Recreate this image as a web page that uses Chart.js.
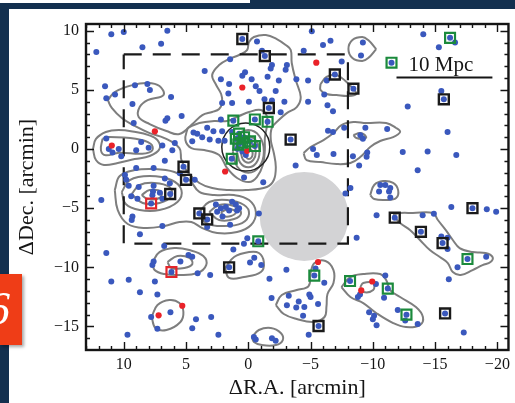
<!DOCTYPE html>
<html>
<head>
<meta charset="utf-8">
<script src="https://cdn.jsdelivr.net/npm/chart.js@4.4.1/dist/chart.umd.min.js"></script>
<style>
  html, body { margin: 0; padding: 0; width: 515px; height: 403px; overflow: hidden; background: #13304f; }
  #panel { position: absolute; left: 9px; top: 9px; right: 0; bottom: 0; background: #ffffff; }
  #strip { position: absolute; left: 0; top: 0; width: 250px; height: 3px; background: #ffffff; }
  #wrap { position: absolute; left: 0; top: 0; width: 515px; height: 403px; }
  #badge { position: absolute; left: 0; top: 274px; width: 22px; height: 71px; background: #ef3d17;
           overflow: hidden; box-shadow: 2px 2px 3px rgba(0,0,0,0.35); }
  #badge span { position: absolute; left: -13px; top: 12px; font: italic 46px "Liberation Serif", serif;
                color: #ffffff; line-height: 1; }
</style>
</head>
<body>
<div id="panel"></div>
<div id="strip"></div>
<div id="wrap"><canvas id="c" width="515" height="403"></canvas></div>
<div id="badge"><span>6</span></div>
<script>
// Axis extents and labelled ticks (arcmin offsets from the cluster centre)
const raRange  = [-20.89, 13.03];
const decRange = [-16.99, 10.57];
const raTicks  = [10, 5, 0, -5, -10, -15, -20];
const decTicks = [10, 5, 0, -5, -10, -15];

// Field galaxies [dRA, dDec]
const blueGalaxies = [
  [11.0,9.7],[10.0,9.9],[6.5,10.0],[8.5,8.6],[7.0,8.9],[12.2,8.2],
  [11.5,5.3],[9.1,5.4],[8.1,5.5],[7.9,5.0],[11.4,4.3],[10.7,4.6],[9.3,3.8],[6.2,4.4],
  [9.2,2.2],[6.65,2.4],[6.5,2.6],[5.35,2.8],
  [11.4,0.9],[8.6,0.6],[8.0,0.1],[5.9,0.5],[6.9,0.3],[6.1,-0.1],[11.2,0.0],[10.9,-0.3],[10.4,0.0],[9.0,-0.1],[10.2,-0.6],
  [6.7,-1.0],[9.0,-1.6],[7.6,-1.6],[6.7,-2.5],[9.9,-2.2],[9.8,-2.6],[4.4,1.4],[4.5,0.65],
  [9.6,-3.1],[8.8,-3.2],[7.6,-3.1],[5.5,-2.05],[4.3,-2.6],[6.3,-2.9],[7.65,-3.6],
  [-0.7,9.1],[-1.1,8.3],[1.46,7.6],[3.5,6.6],[2.2,5.9],[0.26,6.5],[0.48,6.2],[-0.27,5.9],[-0.6,5.3],
  [-1.55,6.1],[-1.9,7.1],[-2.45,5.8],[-3.1,7.1],[-3.0,6.7],[-1.8,6.8],[1.54,5.5],[1.6,4.7],[-0.9,4.9],
  [-2.2,4.9],[1.3,3.9],[2.1,3.9],[-0.05,4.0],[-1.3,4.2],[-1.9,4.1],[-2.9,4.0],[-2.6,3.1],[2.2,2.5],
  [4.1,1.3],[3.7,1.0],[3.3,1.8],[2.8,1.5],[2.1,1.5],[1.3,1.45],[2.4,0.7],[3.1,0.8],[1.9,0.7],
  [0.88,0.03],[0.48,-0.2],[0.2,-0.5],[0.34,-2.4],[-1.2,-2.8],[-3.8,-1.4],
  [-5.1,9.95],[-6.6,9.15],[-6.0,8.8],[-4.45,8.3],[-9.2,9.0],[-9.05,7.9],[-7.5,7.4],[-3.86,5.9],[-4.8,5.8],
  [-6.3,5.8],[-6.1,4.6],[-4.8,4.0],[-6.36,3.7],[-6.8,3.2],[-6.4,1.55],[-6.8,1.44],[-7.7,1.8],[-9.4,1.8],
  [-11.15,1.7],[-9.0,1.16],[-9.2,0.87],[-5.2,0.0],[-5.5,-0.5],[-6.84,-0.42],[-8.4,-0.6],[-9.55,-0.3],
  [-9.5,-0.65],[-8.9,-1.4],[-12.4,-0.25],[-8.2,-3.3],
  [-10.6,-3.05],[-11.0,-3.05],[-11.4,-3.3],[-11.3,-3.6],[-10.5,-3.6],[-11.4,-4.1],
  [-14.05,9.7],[-16.6,9.0],[-15.3,8.6],[-15.5,4.9],[-12.8,3.6],[-16.0,1.44],[-14.4,-0.2],[-16.7,-0.5],[-13.6,-1.8],
  [11.8,-4.3],[9.3,-5.7],[9.36,-6.0],[6.9,-6.5],[8.7,-7.2],[6.75,-8.2],[11.4,-8.8],[7.6,-9.5],[7.7,-9.8],
  [5.45,-9.5],[4.8,-8.95],[4.5,-9.1],[11.0,-11.2],[9.6,-11.05],[7.5,-11.2],[8.7,-12.1],[7.3,-12.3],[7.8,-14.2],
  [6.25,-13.8],[7.3,-15.2],[9.7,-15.7],[4.5,-15.15],[4.2,-14.4],
  [9.4,-4.0],[8.9,-4.2],[7.7,-3.9],[6.9,-4.2],[7.1,-3.7],
  [2.6,-4.7],[2.2,-5.0],[1.8,-4.9],[1.3,-4.45],[1.0,-4.7],[0.74,-5.0],[0.9,-5.2],[2.07,-5.7],[1.54,-5.2],
  [1.46,-6.4],[3.3,-6.6],[2.5,-5.3],[-0.85,-5.44],[0.08,-7.55],[0.35,-8.0],[1.2,-8.5],
  [4.07,-10.5],[3.06,-10.65],[-0.14,-9.6],[-0.48,-9.2],[-1.04,-9.8],[-1.7,-10.96],[-3.06,-10.2],
  [-1.87,-12.6],[-3.25,-12.4],[-3.1,-13.2],[-3.85,-13.4],[2.98,-14.2],[2.4,-15.7],
  [-0.45,-15.9],[-0.6,-16.1],[-1.9,-16.0],[-2.2,-16.2],
  [-7.8,-3.75],[-10.3,-5.6],[-8.7,-7.5],[-5.4,-10.1],[-6.1,-11.3],[-11.0,-10.7],[-10.25,-11.4],
  [-8.97,-12.3],[-8.8,-12.5],[-10.9,-12.57],[-4.05,-12.9],[-4.9,-12.3],[-5.0,-12.5],[-4.5,-13.35],
  [-4.4,-14.1],[-5.6,-13.1],[-4.85,-15.7],[-9.7,-13.8],[-10.1,-14.1],[-10.0,-14.4],[-10.3,-14.9],[-12.0,-13.6],
  [-14.0,-5.6],[-14.9,-5.47],[-16.3,-4.9],[-19.15,-5.1],[-19.9,-5.3],[-15.5,-7.4],[-16.0,-7.5],[-16.0,-8.45],
  [-19.1,-9.1],[-16.8,-10.0],[-16.1,-11.0],[-12.6,-14.5],[-13.6,-14.8],[-17.3,-15.5]
];
const redGalaxies = [
  [7.5,1.5],[10.96,0.3],[0.48,5.2],[1.86,-1.9],[0.1,-0.15],[-5.46,7.3],
  [7.2,-14.06],[5.3,-13.25],[-5.6,-9.55],[-9.95,-11.2],[-9.07,-11.95]
];

// Spectroscopic members, by class
const greenMembers = [
  [1.2,2.4],[-0.53,2.5],[-1.55,2.3],[0.74,1.3],[1.0,0.87],[0.34,1.0],[0.48,0.53],[-0.14,0.65],
  [-0.53,0.25],[0.8,0.37],[1.33,-0.82],[-11.5,7.3],[-16.2,9.4],[-0.8,-7.8],[-5.3,-10.7],
  [-8.17,-11.16],[-11.2,-11.8],[-12.7,-14.0],[-17.6,-9.3]
];
const blackMembers = [
  [0.48,9.3],[-1.33,7.86],[-1.65,3.47],[-3.4,0.8],[-6.95,6.3],[-8.44,5.1],[-15.7,4.2],[5.2,-1.5],
  [5.0,-2.6],[6.27,-3.8],[3.93,-5.44],[3.3,-5.95],[1.54,-10.0],[-11.76,-5.8],[-18.0,-5.0],
  [-13.86,-7.0],[-15.6,-7.95],[-5.64,-14.96],[-15.8,-13.9]
];
const redMembers = [[7.8,-4.6],[6.17,-10.4]];

// Survey footprint, masked region, central aperture, 10 Mpc bar
const surveyBox = [[10,8],[-8,8],[-8,-8],[10,-8],[10,8]];
const maskCentre = [[-4.49,-5.7]];
const apertureCentre = [[0.2,0.17]];
const scaleBar = [[-11.9,6.05],[-19.6,6.05]];
const scaleText = '10 Mpc';
const scaleTextAt = [-15.46,7.07];

// Galaxy density contours, one closed loop per array
const contourCentralOuter = [
  [11.28,4.14],[10.72,4.82],[9.28,5.41],[8.08,5.58],[7.13,5.33],[6.81,4.56],[8.08,4.14],[8.72,3.55],
  [8.80,2.70],[7.92,2.11],[6.57,1.52],[5.53,1.27],[4.49,2.11],[3.69,2.87],[2.90,3.13],[2.34,3.38],
  [2.10,3.97],[2.18,4.65],[2.58,5.41],[2.90,6.26],[2.34,7.10],[1.54,7.61],[0.74,7.95],[0.10,8.37],
  [-0.06,9.04],[-0.45,9.47],[-1.41,9.64],[-2.29,9.30],[-3.01,8.79],[-3.41,8.37],[-3.49,7.27],
  [-3.81,5.83],[-4.21,4.40],[-3.89,3.55],[-3.09,3.04],[-2.45,2.45],[-1.89,1.78],[-1.81,0.76],
  [-2.05,-0.34],[-2.21,-1.52],[-2.05,-2.62],[-1.49,-3.21],[0.18,-3.47],[1.54,-3.47],[2.90,-3.30],
  [3.93,-2.87],[4.89,-1.94],[5.37,-0.93],[5.53,0.08],[6.73,0.93],[7.92,1.35],[9.12,1.95],
  [10.16,2.62],[10.96,3.47]
];
const contourCentralInner = [
  [4.87,1.78],[3.93,2.20],[2.74,2.37],[1.70,2.37],[0.74,2.79],[-0.06,3.13],[-1.01,3.30],[-1.49,2.79],
  [-1.49,1.94],[-1.33,0.93],[-1.33,-0.08],[-1.17,-1.35],[-0.69,-2.37],[-0.06,-2.79],[0.90,-2.45],
  [1.70,-1.61],[2.34,-0.51],[3.54,-0.08],[4.57,0.08],[5.05,0.76]
];
const contourCore1 = [[1.25,-0.2],[0.88,1.1],[0,1.6],[-0.88,1.1],[-1.25,-0.2],[-0.88,-1.5],[0,-2.0],[0.88,-1.5]];
const contourCore2 = [[0.9,-0.25],[0.64,0.67],[0,1.05],[-0.64,0.67],[-0.9,-0.25],[-0.64,-1.17],[0,-1.55],[0.64,-1.17]];
const contourCore3 = [[0.6,-0.3],[0.42,0.3],[0,0.55],[-0.42,0.3],[-0.6,-0.3],[-0.42,-0.9],[0,-1.15],[0.42,-0.9]];
const contourCore4 = [[0.25,-0.4],[0.16,-0.08],[-0.05,0.05],[-0.26,-0.08],[-0.35,-0.4],[-0.26,-0.72],[-0.05,-0.85],[0.16,-0.72]];
const contourWestOuter = [
  [12.47,0],[12.23,0.85],[11.44,1.44],[10.40,1.61],[9.04,1.44],[8.00,1.18],[7.29,0.76],[7.13,0],
  [7.92,-0.59],[9.12,-0.85],[10.48,-1.18],[11.59,-1.35],[12.23,-0.93]
];
const contourWestInner = [
  [11.70,0.87],[11.17,1.01],[9.04,0.87],[7.84,0.45],[7.71,-0.11],[8.51,-0.40],[10.37,-0.31],[11.44,-0.53],[11.83,-0.11]
];
const contourSouthWestOuter = [
  [10.72,-3.47],[10.32,-2.28],[9.12,-1.78],[7.52,-1.69],[5.93,-1.94],[4.73,-2.62],[3.93,-3.63],[2.74,-3.89],
  [1.14,-3.89],[-0.06,-4.31],[-0.61,-5.33],[-0.22,-6.42],[0.90,-7.02],[2.50,-7.10],[3.69,-6.68],
  [4.57,-6.17],[5.53,-6.17],[6.73,-6.51],[8.32,-6.68],[9.68,-6.34],[10.48,-5.16]
];
const contourSWLeft2 = [[10.16,-3.63],[9.52,-2.62],[7.92,-2.28],[6.17,-2.62],[5.37,-3.47],[5.69,-4.48],[7.13,-5.16],[8.72,-5.16],[9.84,-4.65]];
const contourSWLeft3 = [[9.36,-3.80],[8.72,-3.04],[7.52,-2.87],[6.33,-3.21],[6.17,-3.97],[7.13,-4.56],[8.48,-4.56]];
const contourSWLeft4 = [[8.56,-3.89],[7.92,-3.47],[6.97,-3.63],[7.13,-4.14],[8.08,-4.23]];
const contourSWRight2 = [[3.93,-5.33],[3.14,-4.48],[1.70,-4.31],[0.34,-4.73],[-0.06,-5.49],[0.50,-6.26],[1.94,-6.51],[3.38,-6.26]];
const contourSWRight3 = [[3.14,-5.33],[2.34,-4.73],[1.14,-4.82],[0.58,-5.41],[1.14,-5.92],[2.34,-6.00]];
const contourSWRight4 = [[2.18,-5.33],[1.54,-5.07],[0.98,-5.33],[1.38,-5.66],[2.02,-5.66]];
const contourRedSqOuter = [[7.68,-9.55],[7.13,-8.71],[5.93,-8.37],[4.73,-8.54],[3.61,-9.04],[3.38,-9.81],[4.09,-10.48],[5.53,-10.65],[6.73,-10.57],[7.52,-10.23]];
const contourRedSqInner = [[6.49,-9.55],[5.69,-9.04],[4.73,-9.21],[4.49,-9.72],[5.13,-10.06],[6.17,-10.06]];
const contourSouthWestSmall = [[7.76,-14.20],[7.29,-13.19],[6.33,-12.76],[5.53,-13.02],[5.21,-13.78],[5.45,-14.62],[6.57,-15.30],[7.45,-15.13]];
const contourSouthBlackSq = [[1.86,-10.06],[1.14,-9.13],[-0.06,-8.71],[-0.85,-8.79],[-1.25,-9.55],[-1.01,-10.40],[0.34,-10.82],[1.54,-10.90]];
const contourSouthEdge = [[-0.30,-15.89],[-0.85,-15.30],[-1.81,-15.13],[-2.61,-15.55],[-2.77,-16.15],[-2.21,-16.57],[-1.09,-16.57],[-0.45,-16.31]];
const contourEastSmall = [[-9.79,-3.89],[-10.11,-3.04],[-10.83,-2.71],[-11.63,-2.87],[-12.03,-3.47],[-11.87,-4.14],[-11.07,-4.31],[-10.11,-4.23]];
const contourBelowMask = [
  [-2.21,-13.19],[-2.69,-12.34],[-3.89,-11.92],[-4.84,-11.58],[-5.00,-10.48],[-5.32,-9.64],[-6.20,-9.47],
  [-6.84,-10.23],[-6.84,-11.33],[-6.36,-12.26],[-6.28,-13.27],[-6.12,-14.20],[-5.24,-14.62],[-3.89,-14.37],[-2.85,-13.95]
];
const contourSouthEastOuter = [
  [-7.48,-11.67],[-8.20,-10.82],[-9.23,-10.57],[-10.59,-10.57],[-11.07,-11.07],[-11.39,-11.92],[-12.19,-12.51],
  [-13.46,-13.36],[-14.02,-14.20],[-13.78,-14.88],[-12.66,-15.05],[-11.63,-14.71],[-10.27,-13.86],[-9.23,-13.02],[-8.20,-12.51]
];
const contourSouthEastInner = [[-8.99,-11.67],[-9.23,-11.33],[-10.03,-11.33],[-10.03,-11.92],[-9.23,-12.09]];
const contourEastBand = [
  [-11.63,-5.58],[-12.19,-5.41],[-13.22,-5.41],[-14.82,-5.41],[-15.22,-6.00],[-15.86,-6.85],[-16.42,-7.69],
  [-16.97,-8.37],[-18.01,-8.71],[-19.05,-8.79],[-19.61,-9.13],[-19.45,-9.55],[-18.81,-9.81],[-18.01,-10.23],
  [-17.05,-10.65],[-16.42,-10.40],[-16.02,-9.64],[-15.38,-9.13],[-14.58,-8.54],[-13.78,-7.69],[-12.98,-6.85],[-12.19,-6.26]
];
const contourEastMidOuter = [
  [-4.44,-0.34],[-5.00,0.17],[-6.04,0.76],[-6.84,1.35],[-7.48,2.03],[-8.44,2.28],[-9.47,2.20],[-11.07,2.20],
  [-11.87,1.78],[-12.19,1.44],[-11.63,1.01],[-10.59,0.68],[-9.79,0.17],[-8.99,-0.68],[-8.20,-1.18],
  [-7.08,-1.27],[-5.80,-1.10],[-4.68,-0.93]
];
const contourEastMidInner = [[-8.44,1.18],[-8.99,1.35],[-9.47,1.01],[-9.23,0.85],[-8.68,0.93]];
const contourNorthEastRing = [[-10.27,8.45],[-9.63,9.21],[-9.15,9.47],[-8.36,9.21],[-8.04,8.45],[-8.36,7.69],[-9.15,7.44],[-9.63,7.69]];
const contourNorthEastSmall = [[-5.80,5.49],[-6.28,6.09],[-7.08,6.26],[-7.80,5.75],[-8.44,5.07],[-8.68,4.65],[-8.04,4.48],[-7.08,4.56],[-6.28,4.65],[-5.80,4.99]];

const contourLoops = [
  contourCentralOuter, contourCentralInner, contourCore1, contourCore2, contourCore3, contourCore4,
  contourWestOuter, contourWestInner, contourSouthWestOuter, contourSWLeft2, contourSWLeft3, contourSWLeft4,
  contourSWRight2, contourSWRight3, contourSWRight4, contourRedSqOuter, contourRedSqInner,
  contourSouthWestSmall, contourSouthBlackSq, contourSouthEdge, contourEastSmall, contourBelowMask,
  contourSouthEastOuter, contourSouthEastInner, contourEastBand, contourEastMidOuter, contourEastMidInner,
  contourNorthEastRing, contourNorthEastSmall
];

const toXY = arr => arr.map(([x, y]) => ({ x, y }));
const closed = arr => toXY(arr.concat([arr[0]]));
const minusLabel = v => (v < 0 ? '\u2212' + Math.abs(v) : String(v));

const SERIF = "'Liberation Serif', 'Times New Roman', serif";
const INK = '#151515';
const BLUE = '#3a58bd';

const contourDatasets = contourLoops.map(loop => ({
  data: closed(loop), showLine: true, borderColor: '#7e7e7e', borderWidth: 2,
  pointRadius: 0, tension: 0.4, fill: false, order: 10
}));

// Inward tick marks, plot frame and the scale-bar caption
const framePlugin = {
  id: 'frame',
  afterDraw(chart) {
    const { ctx, chartArea: a, scales: { x, y } } = chart;
    ctx.save();
    ctx.strokeStyle = INK;
    ctx.lineWidth = 1.4;
    ctx.beginPath();
    for (let v = Math.ceil(raRange[0]); v <= Math.floor(raRange[1]); v++) {
      const p = Math.round(x.getPixelForValue(v)) + 0.5;
      const len = v % 5 === 0 ? 8 : 4;
      ctx.moveTo(p, a.top); ctx.lineTo(p, a.top + len);
      ctx.moveTo(p, a.bottom); ctx.lineTo(p, a.bottom - len);
    }
    for (let v = Math.ceil(decRange[0]); v <= Math.floor(decRange[1]); v++) {
      const p = Math.round(y.getPixelForValue(v)) + 0.5;
      const len = v % 5 === 0 ? 8 : 4;
      ctx.moveTo(a.left, p); ctx.lineTo(a.left + len, p);
      ctx.moveTo(a.right, p); ctx.lineTo(a.right - len, p);
    }
    ctx.stroke();
    ctx.lineWidth = 2.4;
    ctx.strokeRect(a.left, a.top, a.right - a.left, a.bottom - a.top);
    ctx.fillStyle = INK;
    ctx.font = '21px ' + SERIF;
    ctx.textAlign = 'center';
    ctx.textBaseline = 'middle';
    ctx.fillText(scaleText, x.getPixelForValue(scaleTextAt[0]), y.getPixelForValue(scaleTextAt[1]));
    ctx.restore();
  }
};

new Chart(document.getElementById('c'), {
  type: 'scatter',
  data: {
    datasets: [
      { data: toXY(greenMembers), pointStyle: 'rect', pointRadius: 7, borderColor: '#1b8a3c',
        borderWidth: 2.2, backgroundColor: 'rgba(0,0,0,0)', order: 1 },
      { data: toXY(blackMembers), pointStyle: 'rect', pointRadius: 7, borderColor: '#1a1a1a',
        borderWidth: 2.4, backgroundColor: 'rgba(0,0,0,0)', order: 1 },
      { data: toXY(redMembers), pointStyle: 'rect', pointRadius: 7, borderColor: '#e3262b',
        borderWidth: 2.2, backgroundColor: 'rgba(0,0,0,0)', order: 1 },
      { data: toXY(greenMembers.concat(blackMembers, redMembers)), pointRadius: 3, borderWidth: 0,
        backgroundColor: BLUE, order: 2 },
      { data: toXY(redGalaxies), pointRadius: 3.1, borderWidth: 0, backgroundColor: '#ea2229', order: 3 },
      { data: toXY(blueGalaxies), pointRadius: 3, borderWidth: 0, backgroundColor: BLUE, order: 4 },
      { data: toXY(apertureCentre), pointRadius: 24, borderWidth: 1.5, borderColor: '#222',
        backgroundColor: 'rgba(0,0,0,0)', order: 5 },
      { data: toXY(scaleBar), showLine: true, borderColor: INK, borderWidth: 2, pointRadius: 0, order: 5 },
      { data: toXY(surveyBox), showLine: true, borderColor: '#1a1a1a', borderWidth: 2.2,
        borderDash: [18, 11], pointRadius: 0, order: 7 },
      { data: toXY(maskCentre), pointRadius: 44.5, borderWidth: 0, backgroundColor: '#d3d3d5', order: 8 },
      ...contourDatasets
    ]
  },
  options: {
    responsive: false,
    animation: false,
    devicePixelRatio: 1,
    events: [],
    layout: { autoPadding: false, padding: { top: 24, right: 4, bottom: 0, left: 0 } },
    plugins: { legend: { display: false }, tooltip: { enabled: false } },
    scales: {
      x: {
        type: 'linear', reverse: true, min: raRange[0], max: raRange[1],
        afterBuildTicks: s => { s.ticks = raTicks.map(v => ({ value: v })); },
        afterFit: s => { s.height = 53; },
        grid: { display: false, drawTicks: false }, border: { display: false },
        ticks: { padding: 5, color: INK, autoSkip: false, maxRotation: 0,
                 font: { family: SERIF, size: 16 }, callback: minusLabel },
        title: { display: true, text: '\u0394R.A. [arcmin]', color: INK,
                 font: { family: SERIF, size: 22 }, padding: { top: 0, bottom: 2 } }
      },
      y: {
        type: 'linear', min: decRange[0], max: decRange[1],
        afterBuildTicks: s => { s.ticks = decTicks.map(v => ({ value: v })); },
        afterFit: s => { s.width = 86; },
        grid: { display: false, drawTicks: false }, border: { display: false },
        ticks: { padding: 7, color: INK, autoSkip: false,
                 font: { family: SERIF, size: 16 }, callback: minusLabel },
        title: { display: true, text: '\u0394Dec. [arcmin]', color: INK,
                 font: { family: SERIF, size: 22 }, padding: { top: 14, bottom: 0 } }
      }
    }
  },
  plugins: [framePlugin]
});
</script>
</body>
</html>
